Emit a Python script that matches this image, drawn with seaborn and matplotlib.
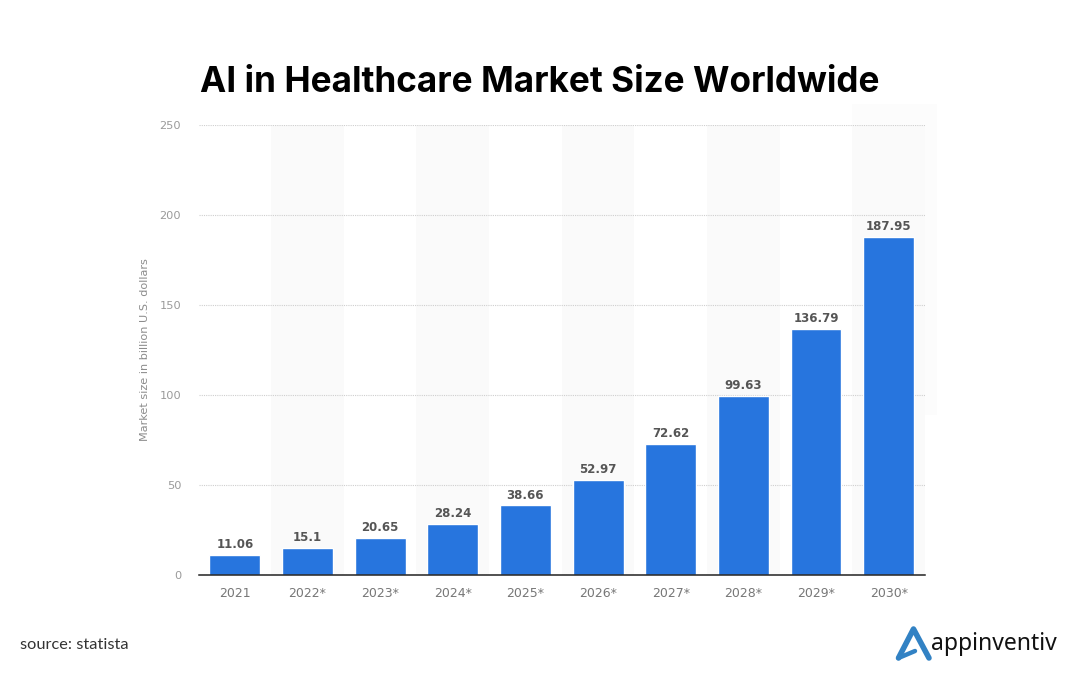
import matplotlib
matplotlib.use("Agg")
import matplotlib.pyplot as plt
from matplotlib.patches import Rectangle
import pandas as pd
import seaborn as sns

years = ["2021", "2022*", "2023*", "2024*", "2025*", "2026*", "2027*", "2028*", "2029*", "2030*"]
values = [11.06, 15.1, 20.65, 28.24, 38.66, 52.97, 72.62, 99.63, 136.79, 187.95]
labels = ["11.06", "15.1", "20.65", "28.24", "38.66", "52.97", "72.62", "99.63", "136.79", "187.95"]
yticks = [0, 50, 100, 150, 200, 250]

W, H = 1080, 682
sns.set_theme(style="white")
plt.rcParams['font.family'] = ['DejaVu Sans']
fig = plt.figure(figsize=(W / 100, H / 100), dpi=100, facecolor="white")
ax = fig.add_axes([198.5 / W, (H - 575) / H, (925 - 198.5) / W, 450 / H])
ax.patch.set_alpha(0)

df = pd.DataFrame({"year": years, "value": values})
sns.barplot(data=df, x="year", y="value", order=years, color="#2775de", saturation=1,
            width=0.70, ax=ax, zorder=3)
ax.set_xlim(-0.5, len(years) - 0.5)
ax.set_ylim(0, 250)

for i in range(1, len(years), 2):
    ax.axvspan(i - 0.5, i + 0.5, color="#fafafa", lw=0, zorder=0)

ax.set_yticks(yticks)
ax.yaxis.grid(True, color="#cfcfcf", lw=0.8, ls=(0, (1, 1)), zorder=1)
ax.set_axisbelow(True)
ax.tick_params(axis="y", length=0, pad=12.5, labelsize=8.2, labelcolor="#9a9a9a")
ax.tick_params(axis="x", length=0, pad=8.3, labelsize=9, labelcolor="#777777")
ax.set_xlabel("")
ax.set_ylabel("Market size in billion U.S. dollars", fontsize=8.1, color="#8c8c8c", labelpad=7)
for s in ["top", "left", "right"]:
    ax.spines[s].set_visible(False)
ax.spines["bottom"].set_color("#222222")
ax.spines["bottom"].set_linewidth(1.1)
ax.spines["bottom"].set_zorder(5)

for i, (v, t) in enumerate(zip(values, labels)):
    ax.annotate(t, (i, v), xytext=(0, 2.8), textcoords="offset points", ha="center", va="bottom",
                fontsize=8.5, fontweight="semibold", color="#555555", zorder=6)

# faint strip at the right edge of the pasted chart, and the band above the top gridline
fig.add_artist(Rectangle((925 / W, (H - 415) / H), 12 / W, 311 / H, transform=fig.transFigure,
                         fc="#fcfcfc", lw=0, zorder=-1))
fig.add_artist(Rectangle((852 / W, (H - 125) / H), 85 / W, 21 / H, transform=fig.transFigure,
                         fc="#fcfcfc", lw=0, zorder=-1))

fig.text(200 / W, (H - 82.5) / H, "AI in Healthcare Market Size Worldwide", fontsize=25.3,
         family="Inter", fontweight="bold", color="black", ha="left", va="center")
fig.text(20 / W, (H - 645) / H, "source: statista", fontsize=11.8, family="Lato",
         color="#333333", ha="left", va="center")

# logo
fig.add_artist(plt.Line2D([x / W for x in [898.5, 913.5, 929]],
                          [(H - y) / H for y in [658, 629, 658]],
                          color="#3282c4", lw=4, solid_capstyle="round", solid_joinstyle="round"))
fig.add_artist(plt.Line2D([x / W for x in [898.5, 915]], [(H - y) / H for y in [658, 651]],
                          color="#3282c4", lw=3.2, solid_capstyle="round"))
fig.text(931 / W, (H - 644) / H, "appinventiv", fontsize=16.5, family="Noto Sans", color="#111111",
         ha="left", va="center")

fig.savefig("out.png", dpi=100)
